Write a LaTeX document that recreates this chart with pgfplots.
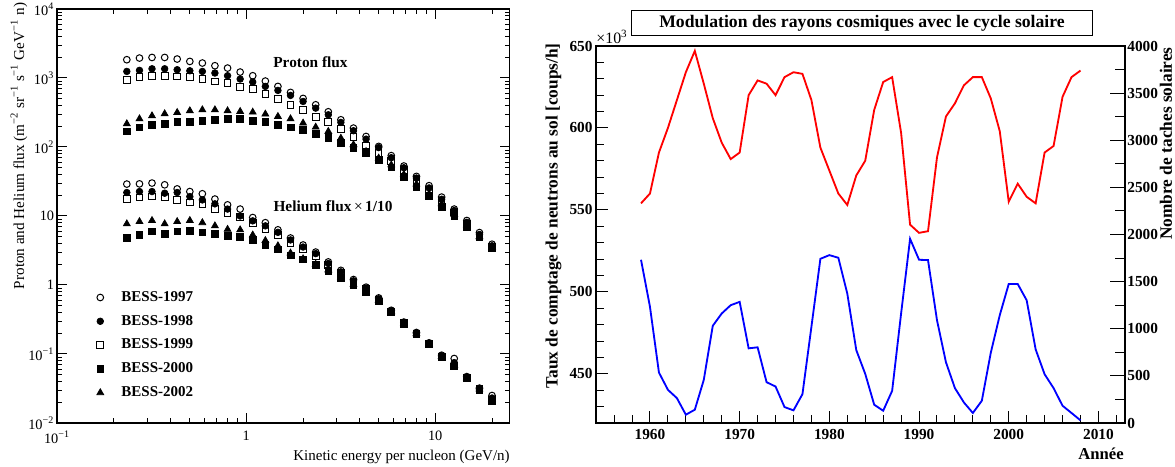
\documentclass[border=0pt]{standalone}
\usepackage{pgfplots}
\usepackage{pgfplotstable}
\pgfplotsset{compat=1.18}
\usepackage{fontspec}
\setmainfont{Liberation Serif}

\pgfplotstableread{
E      p97   p98   p99   p00   p02   h97   h98   h99   h00   h02
0.234  1840  1245  944   168   217   29    21.9  17.5  4.8   7.7
0.273  1945  1290  1033  192   256   29.2  22.6  18.5  5.3   8.3
0.318  1985  1360  1078  210   283   30    22.6  19.2  6.0   8.6
0.371  1985  1360  1078  217   303   28.3  21.4  18.8  5.5   7.7
0.432  1883  1318  1055  230   316   24.7  21.9  17.1  6.0   8.3
0.504  1738  1273  1033  230   335   22.6  19.1  15.7  6.1   8.6
0.587  1648  1245  975   242   346   21    17.1  15    5.8   8.0
0.684  1506  1180  892   248   346   17.6  15    12.6  5.5   7.2
0.798  1393  1078  844   254   335   14.5  12.6  11    5.15  6.4
0.930  1219  966   738   254   327   12.6  10    9.6   5.0   6.3
1.084  1078  874   690   242   320   9.5   8.5   7.9   4.5   5.3
1.264  903   755   584   230   300   8.0   7.2   6.4   3.8   4.4
1.473  755   661   500   210   277   6.3   5.8   5.3   3.3   3.7
1.717  618   559   409   192   256   4.8   4.5   4.1   2.7   2.9
2.001  506   457   347   177   222   3.8   3.55  3.3   2.35  2.4
2.333  409   366   272   154   194   3.0   2.85  2.65  1.95  2.0
2.720  324   293   229   137   168   2.16  2.05  1.95  1.6   1.65
3.170  248   227   184   116   134   1.63  1.55  1.5   1.27  1.3
3.696  188   172   139   98    108   1.2   1.15  1.1   1.0   1.02
4.308  142   130   105   81.5  86    0.93  0.9   0.87  0.8   0.8
5.022  102   98    81    65    69    0.65  0.63  0.61  0.58  0.6
5.855  75    70    63    51    55    0.43  0.42  0.41  0.40  0.41
6.825  53    50    46    36.5  40    0.29  0.285 0.28  0.275 0.28
7.956  37.5  35.5  33    26.7  29    0.205 0.2   0.198 0.195 0.197
9.275  27.5  25.5  24    19.8  21    0.145 0.142 0.14  0.138 0.14
10.81  18.8  17.5  16.5  13.7  15    0.096 0.093 0.091 0.09  0.092
12.60  12.6  12    11.2  10    10.6  0.086 0.075 0.066 0.066 0.068
14.69  8.6   8.1   7.6   7.0   7.4   0.047 0.046 0.045 0.045 0.045
17.13  5.75  5.4   5.2   4.9   5.0   0.032 0.031 0.031 0.030 0.031
19.97  3.9   3.7   3.6   3.4   3.5   0.025 0.023 0.022 0.021 0.022
}\bess

\pgfplotstableread{
year neutron
1959 554
1960 560
1961 585
1962 600
1963 617
1964 634
1965 647
1966 627
1967 606
1968 591
1969 581
1970 585
1971 620
1972 629
1973 627
1974 620
1975 631
1976 634
1977 633
1978 617
1979 588
1980 574
1981 560
1982 553
1983 571
1984 580
1985 611
1986 628
1987 631
1988 597
1989 541
1990 536
1991 537
1992 582
1993 607
1994 615
1995 626
1996 631
1997 631
1998 618
1999 598
2000 555
2001 566
2002 558
2003 554
2004 585
2005 589
2006 619
2007 631
2008 635
}\neutron

\pgfplotstableread{
year spots
1959 1732
1960 1232
1961 535
1962 352
1963 264
1964 88
1965 141
1966 458
1967 1031
1968 1162
1969 1250
1970 1285
1971 792
1972 803
1973 433
1974 387
1975 169
1976 134
1977 306
1978 1021
1979 1742
1980 1781
1981 1753
1982 1373
1983 774
1984 521
1985 194
1986 130
1987 341
1988 1162
1989 1954
1990 1732
1991 1728
1992 1091
1993 644
1994 370
1995 218
1996 106
1997 236
1998 746
1999 1144
2000 1475
2001 1475
2002 1302
2003 781
2004 517
2005 370
2006 183
2007 106
2008 28
}\spots

\newcommand{\PX}[2]{({#1*0.6pt},{(467-#2)*0.6pt})}

\begin{document}
\begin{tikzpicture}
\path[use as bounding box] (0,0) rectangle (705pt,280.2pt);

% ---------------- Left panel ----------------
\begin{axis}[
  at={(34.2pt,26.4pt)}, anchor=south west, scale only axis,
  width=271.5pt, height=248.4pt,
  xmode=log, ymode=log,
  xmin=0.1, xmax=24.7, ymin=0.01, ymax=10000,
  xtick={0.1,1,10}, xticklabels={10\textsuperscript{−1},1,10},
  minor xtick={0.2,0.3,0.4,0.5,0.6,0.7,0.8,0.9,2,3,4,5,6,7,8,9,20},
  ytick={0.01,0.1,1,10,100,1000,10000},
  yticklabels={10\textsuperscript{−2},10\textsuperscript{−1},1,10,10\textsuperscript{2},10\textsuperscript{3},10\textsuperscript{4}},
  minor ytick={0.02,0.03,0.04,0.05,0.06,0.07,0.08,0.09,0.2,0.3,0.4,0.5,0.6,0.7,0.8,0.9,2,3,4,5,6,7,8,9,20,30,40,50,60,70,80,90,200,300,400,500,600,700,800,900,2000,3000,4000,5000,6000,7000,8000,9000},
  tick align=inside, major tick length=6pt, minor tick length=3pt,
  axis line style={line width=1.1pt},
  every tick/.style={black, line width=0.6pt},
  ticklabel style={font=\fontsize{8.6}{10}\selectfont},
  yticklabel style={inner sep=1.5pt},
  xticklabel style={yshift=-1.2pt},
  legend image code/.code={\draw[#1] plot coordinates {(0pt,0pt)}; \path (-2.5pt,0pt) (10.5pt,0pt);},
  legend style={at={(axis description cs:0.085,0.327)}, anchor=north west,
    draw=none, fill=none, font=\bfseries\fontsize{9}{10}\selectfont,
    row sep=2.8pt, inner sep=0pt},
  legend cell align=left,
]
\addplot[only marks, mark=o, mark size=2pt, black, mark options={line width=0.6pt}] table[x=E,y=p97] {\bess};
\addlegendentry{BESS-1997}
\addplot[only marks, mark=*, mark size=2pt, black] table[x=E,y=p98] {\bess};
\addlegendentry{BESS-1998}
\addplot[only marks, mark=square, mark size=2pt, black, mark options={line width=0.6pt}] table[x=E,y=p99] {\bess};
\addlegendentry{BESS-1999}
\addplot[only marks, mark=square*, mark size=2pt, black] table[x=E,y=p00] {\bess};
\addlegendentry{BESS-2000}
\addplot[only marks, mark=triangle*, mark size=2.4pt, black] table[x=E,y=p02] {\bess};
\addlegendentry{BESS-2002}
\addplot[forget plot, only marks, mark=o, mark size=2pt, black, mark options={line width=0.6pt}] table[x=E,y=h97] {\bess};
\addplot[forget plot, only marks, mark=*, mark size=2pt, black] table[x=E,y=h98] {\bess};
\addplot[forget plot, only marks, mark=square, mark size=2pt, black, mark options={line width=0.6pt}] table[x=E,y=h99] {\bess};
\addplot[forget plot, only marks, mark=square*, mark size=2pt, black] table[x=E,y=h00] {\bess};
\addplot[forget plot, only marks, mark=triangle*, mark size=2.4pt, black] table[x=E,y=h02] {\bess};
\end{axis}

\node[font=\bfseries\fontsize{9.2}{10}\selectfont] at \PX{310.5}{62} {Proton flux};
\node[font=\bfseries\fontsize{9.2}{10}\selectfont] at \PX{333}{206} {Helium flux\,{\mdseries ×}\,1/10};
\node[rotate=90, font=\fontsize{9.1}{10}\selectfont] at \PX{19}{146} {Proton and Helium flux (m\textsuperscript{−2} sr\textsuperscript{−1} s\textsuperscript{−1} GeV\textsuperscript{−1} n)};
\node[anchor=east, font=\fontsize{9}{10}\selectfont, inner sep=0pt] at \PX{510}{457} {Kinetic energy per nucleon (GeV/n)};

% ---------------- Right panel ----------------
\begin{axis}[
  at={(357.7pt,26.4pt)}, anchor=south west, scale only axis,
  width=317.5pt, height=226.2pt,
  xmin=1954, xmax=2013, ymin=420, ymax=650,
  xtick={1960,1970,1980,1990,2000,2010},
  minor xtick={1956,1958,1962,1964,1966,1968,1972,1974,1976,1978,1982,1984,1986,1988,1992,1994,1996,1998,2002,2004,2006,2008,2012},
  ytick={450,500,550,600,650},
  minor ytick={430,440,460,470,480,490,510,520,530,540,560,570,580,590,610,620,630,640},
  xtick pos=bottom, ytick pos=left,
  tick align=inside, major tick length=7pt, minor tick length=4.5pt,
  axis line style={line width=1.2pt},
  every tick/.style={black, line width=0.6pt},
  /pgf/number format/assume math mode=true,
  /pgf/number format/1000 sep={},
  ticklabel style={font=\bfseries\fontsize{9.2}{10}\selectfont},
  yticklabel style={inner sep=2pt},
]
\addplot[red, line width=1.1pt] table[x=year,y=neutron] {\neutron};
\end{axis}

\begin{axis}[
  at={(357.7pt,26.4pt)}, anchor=south west, scale only axis,
  width=317.5pt, height=226.2pt,
  xmin=1954, xmax=2013, ymin=0, ymax=4000,
  axis x line=none, axis y line*=right,
  ytick={0,500,1000,1500,2000,2500,3000,3500,4000},
  minor ytick={250,750,1250,1750,2250,2750,3250,3750},
  tick align=inside, major tick length=9pt, minor tick length=6pt,
  axis line style={line width=1.2pt},
  every tick/.style={black, line width=0.6pt},
  /pgf/number format/assume math mode=true,
  /pgf/number format/1000 sep={},
  ticklabel style={font=\bfseries\fontsize{9.2}{10}\selectfont},
  yticklabel style={inner sep=1pt},
]
\addplot[blue, line width=1.1pt] table[x=year,y=spots] {\spots};
\end{axis}

\node[draw, line width=0.6pt, minimum width=277pt, minimum height=15pt, inner sep=0pt,
  font=\bfseries\fontsize{10.6}{12}\selectfont] at \PX{862}{23.5} {Modulation des rayons cosmiques avec le cycle solaire};
\node[font=\fontsize{9.5}{10}\selectfont] at \PX{612}{37} {×10\textsuperscript{3}};
\node[rotate=90, anchor=east, font=\bfseries\fontsize{10.4}{12}\selectfont, inner sep=0pt] at \PX{553.5}{43} {Taux de comptage de neutrons au sol [coups/h]};
\node[rotate=90, anchor=east, font=\bfseries\fontsize{10.4}{12}\selectfont, inner sep=0pt] at \PX{1166}{47} {Nombre de taches solaires};
\node[anchor=east, font=\bfseries\fontsize{10}{12}\selectfont, inner sep=0pt] at \PX{1124}{454} {Année};
\end{tikzpicture}
\end{document}
